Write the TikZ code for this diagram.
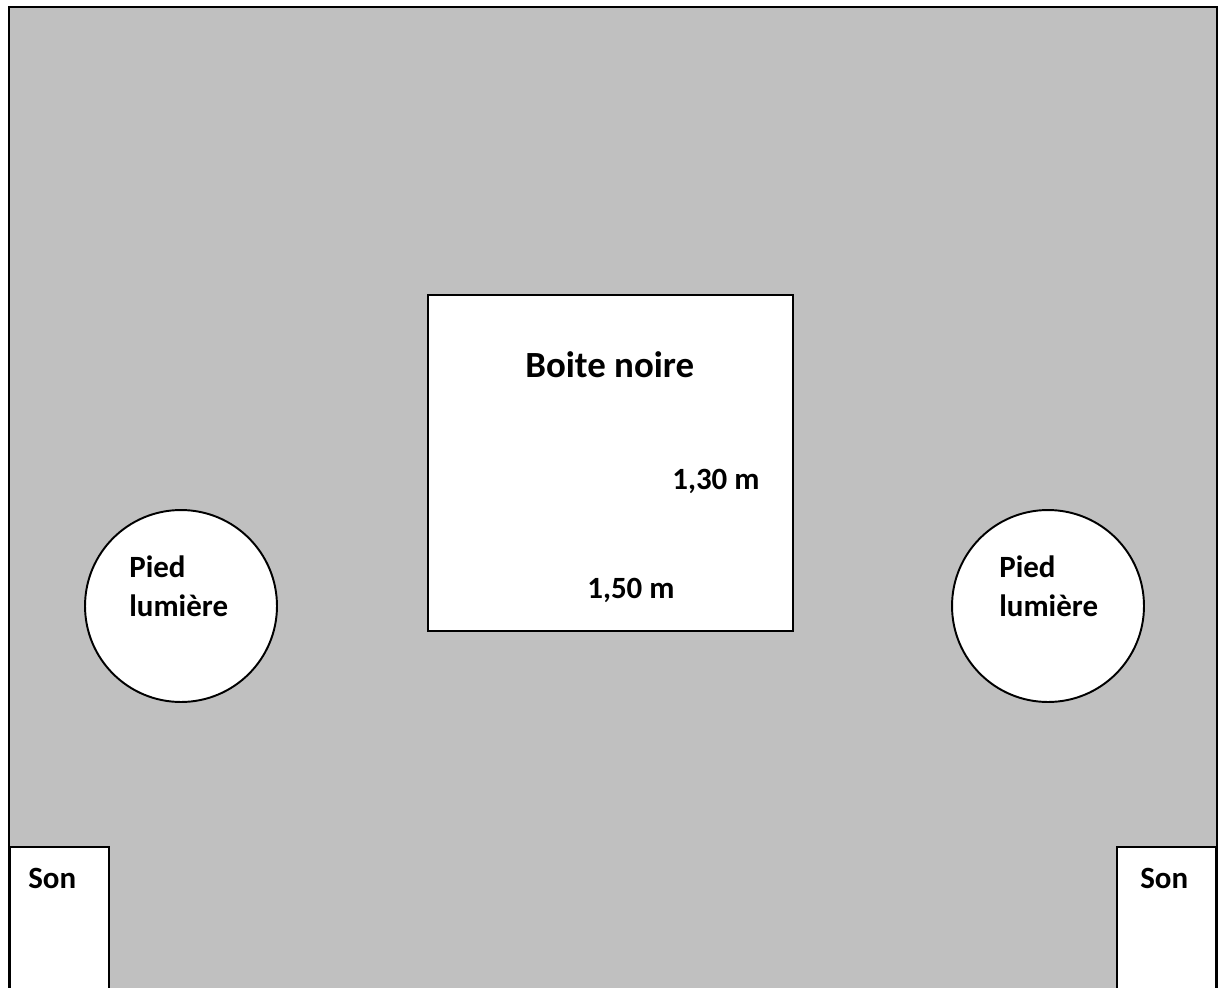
\documentclass[tikz,border=0pt]{standalone}
\usepackage{fontspec}
\setmainfont{Carlito}
\definecolor{sol}{HTML}{C0C0C0}
\begin{document}
\begin{tikzpicture}[x=0.02cm,y=-0.02cm,
    zone/.style={draw,line width=1.1pt,fill=white,inner sep=0pt},
    lbl/.style={font=\bfseries\fontsize{17.6}{21}\selectfont,anchor=base west,inner sep=0pt},
    titre/.style={font=\bfseries\fontsize{21}{25}\selectfont,anchor=base west,inner sep=0pt}]
            \useasboundingbox (0,0) rectangle (1219,987);
            \draw[line width=1.1pt,fill=sol] (9,1000) -- (9,7) -- (1217,7) -- (1217,1000);

            \node[zone,anchor=north west,minimum width=7.3cm,minimum height=6.72cm] (boite) at (427,294) {};
            \node[zone,circle,minimum size=3.84cm] (piedG) at (181,606) {};
            \node[zone,circle,minimum size=3.84cm] (piedD) at (1048,606) {};
            \node[zone,anchor=north west,minimum width=1.98cm,minimum height=3.2cm] (sonG) at (9,846) {};
            \node[zone,anchor=north east,minimum width=1.98cm,minimum height=3.2cm] (sonD) at (1217,846) {};

            \node[titre] (nom) at (525,377) {Boite noire};
            \node[lbl] (haut) at (672,489) {1,30 m};
            \node[lbl] (large) at (587,598) {1,50 m};
            \node[lbl] (piedGa) at (129,577) {Pied};
            \node[lbl] (piedGb) at (129,616) {lumière};
            \node[lbl] (piedDa) at (999,577) {Pied};
            \node[lbl] (piedDb) at (999,616) {lumière};
            \node[lbl] (sonGt) at (28,888) {Son};
            \node[lbl] (sonDt) at (1140,888) {Son};
        \end{tikzpicture}
\end{document}
